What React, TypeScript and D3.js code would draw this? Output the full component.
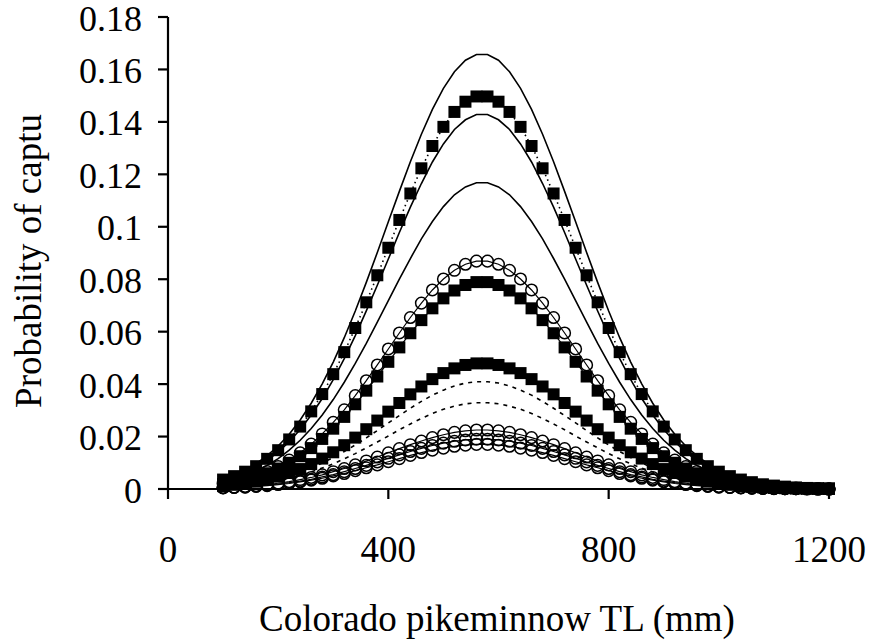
import * as d3 from 'd3';

// Total length (mm) at which each curve was evaluated
const tl = [
  100, 120, 140, 160, 180, 200, 220, 240,
  260, 280, 300, 320, 340, 360, 380, 400,
  420, 440, 460, 480, 500, 520, 540, 560,
  580, 600, 620, 640, 660, 680, 700, 720,
  740, 760, 780, 800, 820, 840, 860, 880,
  900, 920, 940, 960, 980, 1000, 1020, 1040,
  1060, 1080, 1100, 1120, 1140, 1160, 1180, 1200,
];

// solid line, highest curve
const solidHigh = [
  0.0040, 0.0054, 0.0073, 0.0097, 0.0127, 0.0164, 0.0209, 0.0263,
  0.0327, 0.0401, 0.0484, 0.0577, 0.0679, 0.0788, 0.0902, 0.1019,
  0.1135, 0.1248, 0.1353, 0.1448, 0.1528, 0.1591, 0.1635, 0.1657,
  0.1657, 0.1635, 0.1591, 0.1528, 0.1448, 0.1353, 0.1248, 0.1135,
  0.1019, 0.0902, 0.0788, 0.0679, 0.0577, 0.0484, 0.0401, 0.0327,
  0.0263, 0.0209, 0.0164, 0.0127, 0.0097, 0.0073, 0.0054, 0.0040,
  0.0029, 0.0020, 0.0014, 0.0010, 0.0007, 0.0005, 0.0003, 0.0002,
];

// squares joined by a dotted line
const squaresHigh = [
  0.0036, 0.0049, 0.0066, 0.0087, 0.0115, 0.0148, 0.0189, 0.0238,
  0.0296, 0.0362, 0.0438, 0.0522, 0.0614, 0.0712, 0.0815, 0.0920,
  0.1026, 0.1127, 0.1223, 0.1308, 0.1381, 0.1438, 0.1477, 0.1497,
  0.1497, 0.1477, 0.1438, 0.1381, 0.1308, 0.1223, 0.1127, 0.1026,
  0.0920, 0.0815, 0.0712, 0.0614, 0.0522, 0.0438, 0.0362, 0.0296,
  0.0238, 0.0189, 0.0148, 0.0115, 0.0087, 0.0066, 0.0049, 0.0036,
  0.0026, 0.0018, 0.0013, 0.0009, 0.0006, 0.0004, 0.0003, 0.0002,
];

const solidMid = [
  0.0034, 0.0047, 0.0063, 0.0083, 0.0109, 0.0141, 0.0180, 0.0227,
  0.0282, 0.0345, 0.0417, 0.0497, 0.0585, 0.0679, 0.0777, 0.0877,
  0.0978, 0.1075, 0.1165, 0.1247, 0.1316, 0.1371, 0.1408, 0.1428,
  0.1428, 0.1408, 0.1371, 0.1316, 0.1247, 0.1165, 0.1075, 0.0978,
  0.0877, 0.0777, 0.0679, 0.0585, 0.0497, 0.0417, 0.0345, 0.0282,
  0.0227, 0.0180, 0.0141, 0.0109, 0.0083, 0.0063, 0.0047, 0.0034,
  0.0025, 0.0018, 0.0012, 0.0009, 0.0006, 0.0004, 0.0003, 0.0002,
];

const solidLow = [
  0.0028, 0.0038, 0.0051, 0.0068, 0.0090, 0.0116, 0.0148, 0.0186,
  0.0231, 0.0282, 0.0341, 0.0407, 0.0479, 0.0555, 0.0636, 0.0718,
  0.0800, 0.0879, 0.0954, 0.1020, 0.1077, 0.1122, 0.1152, 0.1168,
  0.1168, 0.1152, 0.1122, 0.1077, 0.1020, 0.0954, 0.0879, 0.0800,
  0.0718, 0.0636, 0.0555, 0.0479, 0.0407, 0.0341, 0.0282, 0.0231,
  0.0186, 0.0148, 0.0116, 0.0090, 0.0068, 0.0051, 0.0038, 0.0028,
  0.0020, 0.0014, 0.0010, 0.0007, 0.0005, 0.0003, 0.0002, 0.0001,
];

const circlesHigh = [
  0.0021, 0.0028, 0.0038, 0.0051, 0.0067, 0.0086, 0.0110, 0.0138,
  0.0171, 0.0210, 0.0254, 0.0302, 0.0356, 0.0413, 0.0473, 0.0534,
  0.0595, 0.0654, 0.0709, 0.0759, 0.0801, 0.0834, 0.0857, 0.0869,
  0.0869, 0.0857, 0.0834, 0.0801, 0.0759, 0.0709, 0.0654, 0.0595,
  0.0534, 0.0473, 0.0413, 0.0356, 0.0302, 0.0254, 0.0210, 0.0171,
  0.0138, 0.0110, 0.0086, 0.0067, 0.0051, 0.0038, 0.0028, 0.0021,
  0.0015, 0.0011, 0.0008, 0.0005, 0.0004, 0.0002, 0.0002, 0.0001,
];

const squaresMid = [
  0.0019, 0.0026, 0.0035, 0.0046, 0.0060, 0.0078, 0.0100, 0.0125,
  0.0156, 0.0191, 0.0230, 0.0275, 0.0323, 0.0375, 0.0429, 0.0485,
  0.0540, 0.0594, 0.0644, 0.0689, 0.0727, 0.0757, 0.0778, 0.0789,
  0.0789, 0.0778, 0.0757, 0.0727, 0.0689, 0.0644, 0.0594, 0.0540,
  0.0485, 0.0429, 0.0375, 0.0323, 0.0275, 0.0230, 0.0191, 0.0156,
  0.0125, 0.0100, 0.0078, 0.0060, 0.0046, 0.0035, 0.0026, 0.0019,
  0.0014, 0.0010, 0.0007, 0.0005, 0.0003, 0.0002, 0.0001, 0.0001,
];

const squaresLow = [
  0.0011, 0.0016, 0.0021, 0.0028, 0.0037, 0.0047, 0.0061, 0.0076,
  0.0095, 0.0116, 0.0140, 0.0167, 0.0196, 0.0228, 0.0261, 0.0295,
  0.0328, 0.0361, 0.0391, 0.0419, 0.0442, 0.0460, 0.0473, 0.0479,
  0.0479, 0.0473, 0.0460, 0.0442, 0.0419, 0.0391, 0.0361, 0.0328,
  0.0295, 0.0261, 0.0228, 0.0196, 0.0167, 0.0140, 0.0116, 0.0095,
  0.0076, 0.0061, 0.0047, 0.0037, 0.0028, 0.0021, 0.0016, 0.0011,
  0.0008, 0.0006, 0.0004, 0.0003, 0.0002, 0.0001, 0.0001, 0.0001,
];

const dashedHigh = [
  0.0010, 0.0013, 0.0018, 0.0024, 0.0031, 0.0041, 0.0052, 0.0065,
  0.0081, 0.0099, 0.0120, 0.0143, 0.0168, 0.0195, 0.0223, 0.0252,
  0.0280, 0.0308, 0.0334, 0.0358, 0.0377, 0.0393, 0.0404, 0.0409,
  0.0409, 0.0404, 0.0393, 0.0377, 0.0358, 0.0334, 0.0308, 0.0280,
  0.0252, 0.0223, 0.0195, 0.0168, 0.0143, 0.0120, 0.0099, 0.0081,
  0.0065, 0.0052, 0.0041, 0.0031, 0.0024, 0.0018, 0.0013, 0.0010,
  0.0007, 0.0005, 0.0004, 0.0002, 0.0002, 0.0001, 0.0001, 0.0001,
];

const dashedLow = [
  0.0008, 0.0011, 0.0014, 0.0019, 0.0025, 0.0033, 0.0042, 0.0052,
  0.0065, 0.0080, 0.0096, 0.0115, 0.0135, 0.0157, 0.0179, 0.0202,
  0.0226, 0.0248, 0.0269, 0.0288, 0.0304, 0.0316, 0.0325, 0.0329,
  0.0329, 0.0325, 0.0316, 0.0304, 0.0288, 0.0269, 0.0248, 0.0226,
  0.0202, 0.0179, 0.0157, 0.0135, 0.0115, 0.0096, 0.0080, 0.0065,
  0.0052, 0.0042, 0.0033, 0.0025, 0.0019, 0.0014, 0.0011, 0.0008,
  0.0006, 0.0004, 0.0003, 0.0002, 0.0001, 0.0001, 0.0001, 0.0000,
];

const circlesA = [
  0.0005, 0.0007, 0.0010, 0.0013, 0.0017, 0.0022, 0.0028, 0.0036,
  0.0044, 0.0054, 0.0066, 0.0078, 0.0092, 0.0107, 0.0122, 0.0138,
  0.0154, 0.0169, 0.0183, 0.0196, 0.0207, 0.0216, 0.0222, 0.0225,
  0.0225, 0.0222, 0.0216, 0.0207, 0.0196, 0.0183, 0.0169, 0.0154,
  0.0138, 0.0122, 0.0107, 0.0092, 0.0078, 0.0066, 0.0054, 0.0044,
  0.0036, 0.0028, 0.0022, 0.0017, 0.0013, 0.0010, 0.0007, 0.0005,
  0.0004, 0.0003, 0.0002, 0.0001, 0.0001, 0.0001, 0.0000, 0.0000,
];

const circlesB = [
  0.0005, 0.0006, 0.0008, 0.0011, 0.0015, 0.0019, 0.0024, 0.0030,
  0.0037, 0.0046, 0.0055, 0.0066, 0.0078, 0.0090, 0.0103, 0.0117,
  0.0130, 0.0143, 0.0155, 0.0166, 0.0175, 0.0182, 0.0187, 0.0190,
  0.0190, 0.0187, 0.0182, 0.0175, 0.0166, 0.0155, 0.0143, 0.0130,
  0.0117, 0.0103, 0.0090, 0.0078, 0.0066, 0.0055, 0.0046, 0.0037,
  0.0030, 0.0024, 0.0019, 0.0015, 0.0011, 0.0008, 0.0006, 0.0005,
  0.0003, 0.0002, 0.0002, 0.0001, 0.0001, 0.0001, 0.0000, 0.0000,
];

const circlesC = [
  0.0004, 0.0006, 0.0007, 0.0010, 0.0013, 0.0017, 0.0021, 0.0027,
  0.0034, 0.0041, 0.0050, 0.0059, 0.0070, 0.0081, 0.0092, 0.0104,
  0.0116, 0.0128, 0.0139, 0.0148, 0.0156, 0.0163, 0.0167, 0.0170,
  0.0170, 0.0167, 0.0163, 0.0156, 0.0148, 0.0139, 0.0128, 0.0116,
  0.0104, 0.0092, 0.0081, 0.0070, 0.0059, 0.0050, 0.0041, 0.0034,
  0.0027, 0.0021, 0.0017, 0.0013, 0.0010, 0.0007, 0.0006, 0.0004,
  0.0003, 0.0002, 0.0001, 0.0001, 0.0001, 0.0000, 0.0000, 0.0000,
];

const xTicks = [0, 400, 800, 1200];
const yTicks = [0, 0.02, 0.04, 0.06, 0.08, 0.1, 0.12, 0.14, 0.16, 0.18];

type LineStyle = 'solid' | 'dotted' | 'dashed' | 'thin';
type Marker = 'square' | 'circle' | null;
interface Series {
  values: number[];
  line: LineStyle;
  marker: Marker;
}

// drawing order: plain curves first, then squares, circles on top
const series: Series[] = [
  { values: solidHigh, line: 'solid', marker: null },
  { values: solidMid, line: 'solid', marker: null },
  { values: solidLow, line: 'solid', marker: null },
  { values: dashedHigh, line: 'dashed', marker: null },
  { values: dashedLow, line: 'dashed', marker: null },
  { values: squaresHigh, line: 'dotted', marker: 'square' },
  { values: squaresMid, line: 'thin', marker: 'square' },
  { values: squaresLow, line: 'thin', marker: 'square' },
  { values: circlesHigh, line: 'thin', marker: 'circle' },
  { values: circlesA, line: 'thin', marker: 'circle' },
  { values: circlesB, line: 'thin', marker: 'circle' },
  { values: circlesC, line: 'thin', marker: 'circle' },
];

const font = "'Liberation Serif', 'Times New Roman', serif";

export default function App() {
  const width = 870;
  const height = 642;

  const x = d3.scaleLinear().domain([0, 1200]).range([168, 829]);
  const y = d3.scaleLinear().domain([0, 0.18]).range([489, 17]);

  const line = d3
    .line<number>()
    .x((_, i) => x(tl[i]))
    .y((d) => y(d));

  const dash: Record<LineStyle, string | undefined> = {
    solid: undefined,
    dotted: '1.5 3.5',
    dashed: '4 5',
    thin: undefined,
  };

  const sq = 12;

  return (
    <svg
      width={width}
      height={height}
      style={{ position: 'absolute', left: 0, top: 0, background: '#fff' }}
    >
      <rect width={width} height={height} fill="#fff" />

      {series.map((s, k) => (
        <g key={k}>
          <path
            d={line(s.values) ?? ''}
            fill="none"
            stroke="#000"
            strokeWidth={s.line === 'thin' ? 1.2 : 1.6}
            strokeDasharray={dash[s.line]}
          />
          {s.marker === 'square' &&
            s.values.map((v, i) => (
              <rect
                key={i}
                x={x(tl[i]) - sq / 2}
                y={y(v) - sq / 2}
                width={sq}
                height={sq}
                fill="#000"
              />
            ))}
          {s.marker === 'circle' &&
            s.values.map((v, i) => (
              <circle
                key={i}
                cx={x(tl[i])}
                cy={y(v)}
                r={5.8}
                fill="none"
                stroke="#000"
                strokeWidth={1.5}
              />
            ))}
        </g>
      ))}

      {/* y axis */}
      <line x1={x(0)} x2={x(0)} y1={y(0.18)} y2={y(0)} stroke="#000" strokeWidth={2.2} />
      {yTicks.map((t) => (
        <g key={t}>
          <line x1={x(0) - 10} x2={x(0)} y1={y(t)} y2={y(t)} stroke="#000" strokeWidth={2.2} />
          <text
            x={142}
            y={y(t) + 1}
            dy="0.35em"
            textAnchor="end"
            fontFamily={font}
            fontSize={36}
          >
            {String(+t.toFixed(2))}
          </text>
        </g>
      ))}

      {/* x axis */}
      <line x1={x(0)} x2={x(1200)} y1={y(0)} y2={y(0)} stroke="#000" strokeWidth={2.2} />
      {xTicks.map((t) => (
        <g key={t}>
          <line x1={x(t)} x2={x(t)} y1={y(0)} y2={y(0) + 10} stroke="#000" strokeWidth={2.2} />
          <text x={x(t)} y={562} textAnchor="middle" fontFamily={font} fontSize={37}>
            {t}
          </text>
        </g>
      ))}

      <text x={497} y={631} textAnchor="middle" fontFamily={font} fontSize={37}>
        Colorado pikeminnow TL (mm)
      </text>
      <text
        transform="translate(41, 261) rotate(-90)"
        textAnchor="middle"
        fontFamily={font}
        fontSize={37}
      >
        Probability of captu
      </text>
    </svg>
  );
}
